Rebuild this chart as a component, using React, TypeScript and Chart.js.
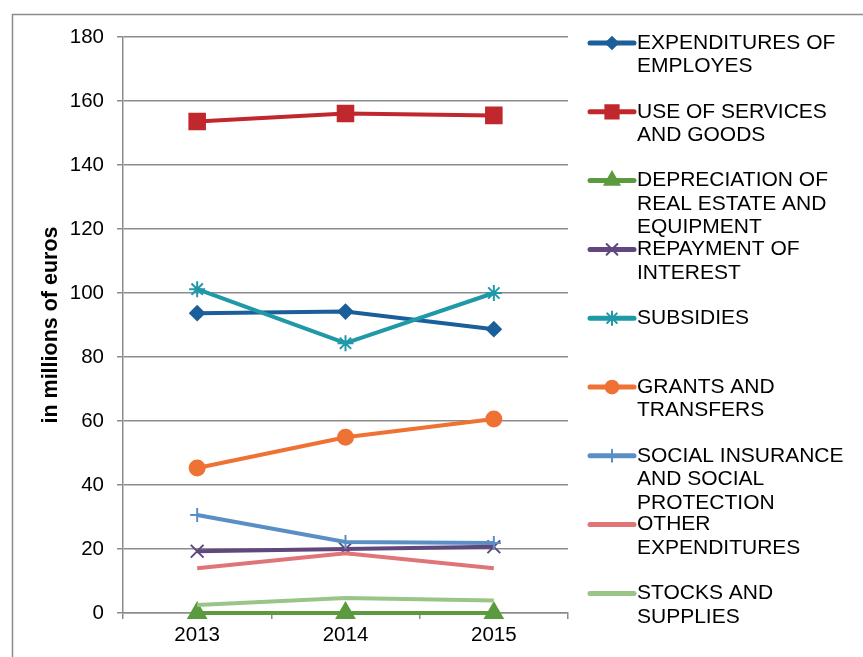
import React, { useEffect, useRef } from "react";
import { Chart, registerables } from "chart.js";
import { drawPoint } from "chart.js/helpers";

Chart.register(...registerables);

const years = ["2013", "2014", "2015"];

const seriesNames = [
  "EXPENDITURES OF EMPLOYES",
  "USE OF SERVICES AND GOODS",
  "DEPRECIATION OF REAL ESTATE AND EQUIPMENT",
  "REPAYMENT OF INTEREST",
  "SUBSIDIES",
  "GRANTS AND TRANSFERS",
  "SOCIAL INSURANCE AND SOCIAL PROTECTION",
  "OTHER EXPENDITURES",
  "STOCKS AND SUPPLIES",
];

const legendLines = [
  ["EXPENDITURES OF", "EMPLOYES"],
  ["USE OF SERVICES", "AND GOODS"],
  ["DEPRECIATION OF", "REAL ESTATE AND", "EQUIPMENT"],
  ["REPAYMENT OF", "INTEREST"],
  ["SUBSIDIES"],
  ["GRANTS AND", "TRANSFERS"],
  ["SOCIAL INSURANCE", "AND SOCIAL", "PROTECTION"],
  ["OTHER", "EXPENDITURES"],
  ["STOCKS AND", "SUPPLIES"],
];

const employes = [93.7, 94.2, 88.7];
const services = [153.6, 156.1, 155.5];
const depreciation = [0, 0, 0];
const interest = [19.3, 20.0, 20.7];
const subsidies = [101.2, 84.3, 100.0];
const grants = [45.3, 54.9, 60.6];
const socialInsurance = [30.6, 22.2, 21.9];
const otherExp = [14.0, 18.7, 14.0];
const stocks = [2.5, 4.7, 3.9];

const yTicks = [0, 20, 40, 60, 80, 100, 120, 140, 160, 180];
const yTitle = "in millions of euros";

const seriesValues = [
  employes,
  services,
  depreciation,
  interest,
  subsidies,
  grants,
  socialInsurance,
  otherExp,
  stocks,
];

const colors = [
  "#1A5F9A",
  "#C0282E",
  "#5B9A3E",
  "#60487F",
  "#1F98A8",
  "#EE7234",
  "#5A8FC6",
  "#E07577",
  "#9BC587",
];

const pointStyles: any[] = [
  "rectRot",
  "rect",
  "triangle",
  "crossRot",
  "star",
  "circle",
  "cross",
  false,
  false,
];

const pointRadii = [7, 11, 10, 9, 8, 7.5, 7, 0, 0];

const FONT = '"Liberation Sans", Arial, Helvetica, sans-serif';

const frameAndLegend = {
  id: "frameAndLegend",
  beforeDraw(chart: any) {
    const ctx = chart.ctx;
    ctx.save();
    ctx.fillStyle = "#ffffff";
    ctx.fillRect(0, 0, chart.width, chart.height);
    ctx.strokeStyle = "#8c8c8c";
    ctx.lineWidth = 1.5;
    ctx.strokeRect(12.5, 14.5, chart.width + 20, chart.height + 20);
    ctx.restore();
  },
  afterDraw(chart: any) {
    const ctx = chart.ctx;
    const x0 = chart.chartArea.right + 22;
    const x1 = x0 + 44;
    const top = 43;
    const step = 68.8;
    ctx.save();
    legendLines.forEach((lines, i) => {
      const y = top + i * step;
      ctx.strokeStyle = colors[i];
      ctx.lineWidth = 5;
      ctx.lineCap = "round";
      ctx.beginPath();
      ctx.moveTo(x0, y);
      ctx.lineTo(x1, y);
      ctx.stroke();
      if (pointStyles[i]) {
        ctx.fillStyle = colors[i];
        ctx.strokeStyle = colors[i];
        ctx.lineWidth = 2;
        drawPoint(
          ctx,
          { pointStyle: pointStyles[i], radius: pointRadii[i] * 0.85, rotation: 0, borderWidth: 2 },
          (x0 + x1) / 2,
          y
        );
      }
      ctx.fillStyle = "#000000";
      ctx.font = `21px ${FONT}`;
      ctx.textBaseline = "middle";
      ctx.textAlign = "left";
      lines.forEach((t, k) => {
        ctx.fillText(t, x1 + 3, y + k * 23.5);
      });
    });
    ctx.restore();
  },
};

export default function App() {
  const ref = useRef<HTMLCanvasElement | null>(null);
  useEffect(() => {
    if (!ref.current) return;
    const chart = new Chart(ref.current, {
      type: "line",
      data: {
        labels: years,
        datasets: seriesNames.map((name, i) => ({
          label: name,
          data: seriesValues[i],
          borderColor: colors[i],
          backgroundColor: colors[i],
          pointBackgroundColor: colors[i],
          pointBorderColor: colors[i],
          pointStyle: pointStyles[i],
          pointRadius: pointRadii[i],
          pointBorderWidth: 2,
          borderWidth: 4,
          tension: 0,
          fill: false,
          order: 9 - i,
          clip: false as any,
        })),
      },
      options: {
        responsive: false,
        animation: false,
        events: [],
        layout: { padding: { top: 37, right: 295, bottom: 0, left: 0 } },
        plugins: {
          legend: { display: false },
          tooltip: { enabled: false },
        },
        scales: {
          x: {
            offset: true,
            grid: {
              offset: true,
              drawOnChartArea: false,
              drawTicks: true,
              tickLength: 6,
              color: "#8c8c8c",
              lineWidth: 1.5,
            },
            border: { display: true, color: "#8c8c8c", width: 1.5 },
            ticks: {
              color: "#000000",
              font: { family: FONT, size: 20.5 },
              padding: 4,
            },
            afterFit(scale: any) {
              scale.height = 44;
            },
          },
          y: {
            min: 0,
            max: 180,
            afterBuildTicks(scale: any) {
              scale.ticks = yTicks.map((v) => ({ value: v }));
            },
            grid: {
              drawTicks: true,
              tickLength: 6,
              color: "#8c8c8c",
              lineWidth: 1.5,
            },
            border: { display: true, color: "#8c8c8c", width: 1.5 },
            ticks: {
              color: "#000000",
              font: { family: FONT, size: 20.5 },
              padding: 13,
            },
            title: {
              display: true,
              text: yTitle,
              color: "#000000",
              font: { family: FONT, size: 21.5, weight: "bold" },
              padding: { top: 38.5, bottom: 0 },
            },
            afterFit(scale: any) {
              scale.width = 123;
            },
          },
        },
      },
      plugins: [frameAndLegend],
    });
    return () => chart.destroy();
  }, []);
  return (
    <div style={{ position: "absolute", left: 0, top: 0, width: 863, height: 657 }}>
      <canvas ref={ref} width={863} height={657} style={{ width: 863, height: 657 }} />
    </div>
  );
}
